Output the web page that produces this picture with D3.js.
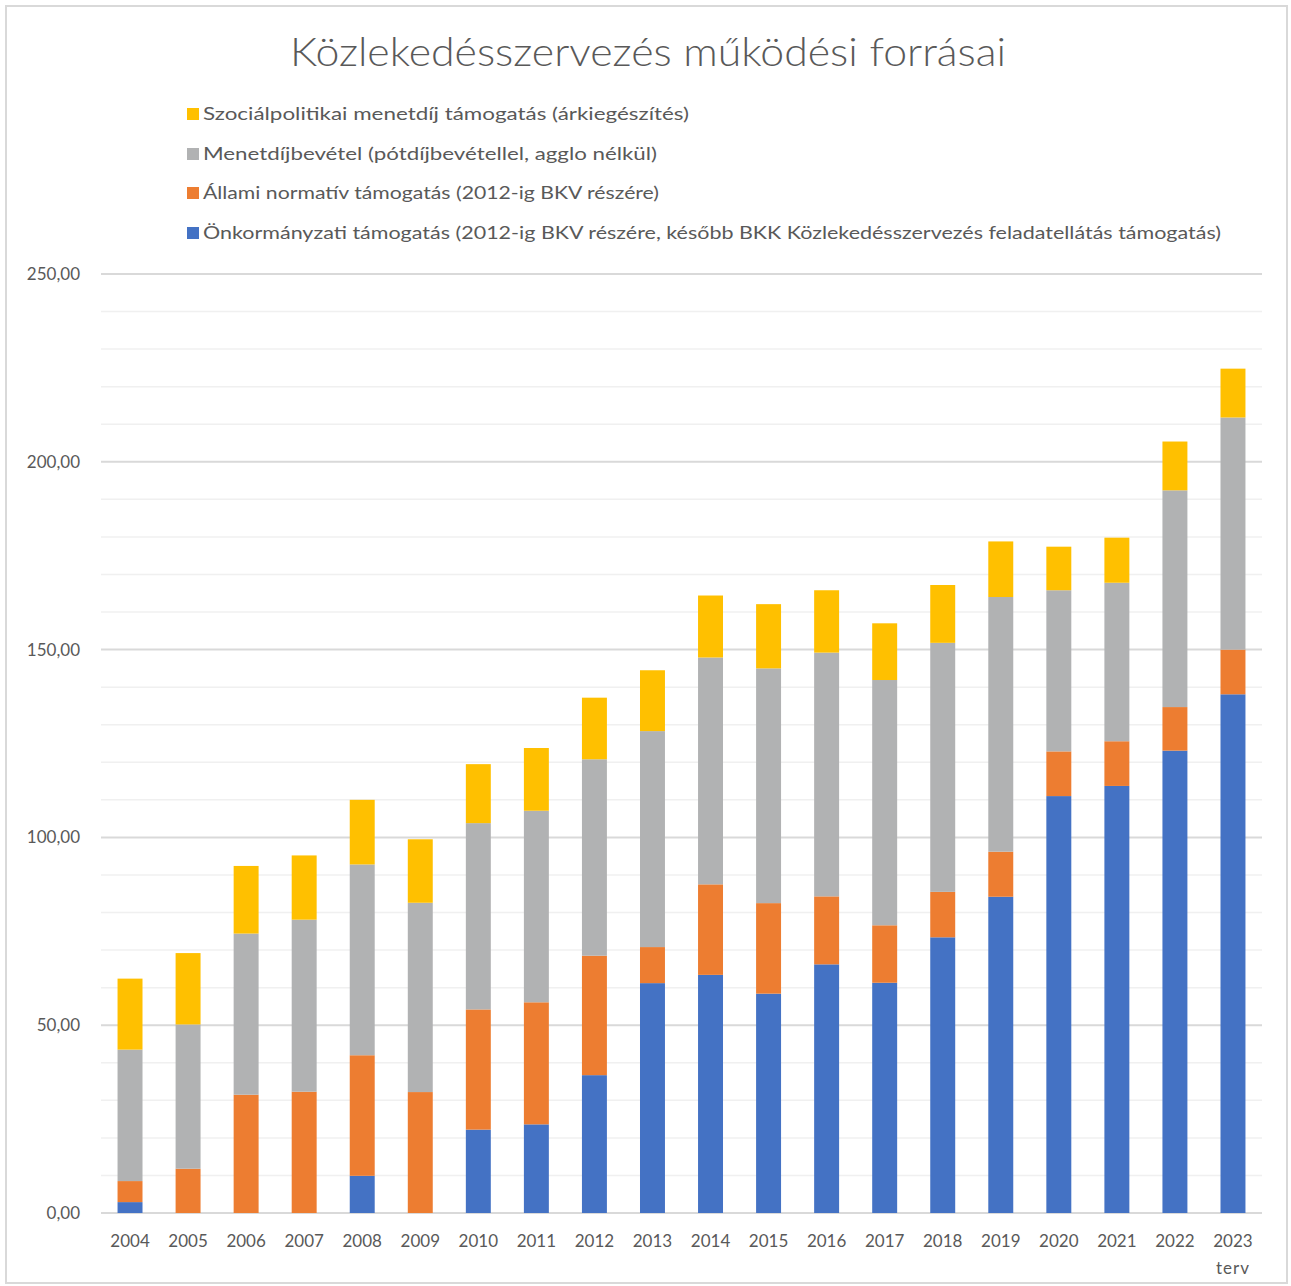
<!DOCTYPE html>
<html>
<head>
<meta charset="utf-8">
<script src="https://cdn.jsdelivr.net/npm/d3@7"></script>
<style>
body { margin: 0; background: #fff; }
text { font-family: Lato, "Noto Sans", sans-serif; }
</style>
</head>
<body>
<script>
var w = 1291;
var h = 1286;

var years = ["2004","2005","2006","2007","2008","2009","2010","2011","2012","2013",
             "2014","2015","2016","2017","2018","2019","2020","2021","2022","2023"];
// Önkormányzati támogatás
var onkormanyzati = [2.9,0,0,0,9.9,0,22.2,23.6,36.7,61.2,63.4,58.4,66.2,61.3,73.4,84.2,111.0,113.7,123.1,138.1];
// Állami normatív támogatás
var allami = [5.6,11.8,31.5,32.3,32.1,32.2,32.0,32.5,31.8,9.6,24.1,24.1,18.1,15.3,12.1,12.0,11.9,11.9,11.6,11.9];
// Menetdíjbevétel
var menetdij = [35.0,38.4,42.9,45.8,50.8,50.4,49.6,51.0,52.3,57.5,60.4,62.5,64.9,65.3,66.3,67.8,42.9,42.2,57.7,61.8];
// Szociálpolitikai menetdíj támogatás
var szocpol = [18.9,19.0,18.0,17.1,17.2,16.9,15.7,16.7,16.4,16.2,16.5,17.1,16.6,15.1,15.4,14.8,11.6,12.0,13.0,13.0];

var seriesNames = [
  "Önkormányzati támogatás (2012-ig BKV részére, később BKK Közlekedésszervezés feladatellátás támogatás)",
  "Állami normatív támogatás (2012-ig BKV részére)",
  "Menetdíjbevétel (pótdíjbevétellel, agglo nélkül)",
  "Szociálpolitikai menetdíj támogatás (árkiegészítés)"
];
var colors = ["#4472C4","#ED7D31","#B1B2B3","#FFC000"];
var yTicks = [0,50,100,150,200,250];

var svg = d3.select("body").append("svg").attr("width",w).attr("height",h);

// frame
svg.append("rect").attr("x",6).attr("y",6).attr("width",1281).attr("height",1277)
  .attr("fill","#fff").attr("stroke","#d9d9d9").attr("stroke-width",2);

// title
svg.append("text").attr("x",648).attr("y",66).attr("text-anchor","middle")
  .attr("font-size",40).attr("font-weight",300).attr("fill","#595959")
  .attr("textLength",716).attr("lengthAdjust","spacingAndGlyphs")
  .text("Közlekedésszervezés működési forrásai");

// legend (reversed order, top = last series)
var legendY = [233,193,154,114];
var legendW = [1018,456,454,486];
var leg = svg.selectAll("g.leg").data(seriesNames).enter().append("g").attr("class","leg");
leg.append("rect").attr("x",187).attr("y",function(d,i){return legendY[i]-6;})
  .attr("width",12).attr("height",12).attr("fill",function(d,i){return colors[i];});
leg.append("text").attr("x",203).attr("y",function(d,i){return legendY[i]+6;})
  .attr("font-size",17).attr("fill","#595959")
  .attr("textLength",function(d,i){return legendW[i];}).attr("lengthAdjust","spacingAndGlyphs")
  .text(function(d){return d;});

// scales
var x = d3.scaleBand().domain(years).range([101,1262]).paddingInner(0.57).paddingOuter(0.285);
var y = d3.scaleLinear().domain([0,250]).range([1213,274]);

// gridlines
svg.selectAll("line.minor").data(d3.range(0,251,10)).enter().append("line")
  .attr("x1",101).attr("x2",1262)
  .attr("y1",function(d){return y(d);}).attr("y2",function(d){return y(d);})
  .attr("stroke",function(d){return d%50===0 ? "#d9d9d9" : "#f0f0f0";})
  .attr("stroke-width",function(d){return d%50===0 ? 2 : 1.5;});

// y labels
svg.selectAll("text.ylab").data(yTicks).enter().append("text")
  .attr("x",80).attr("y",function(d){return y(d)+6;}).attr("text-anchor","end")
  .attr("font-size",17).attr("fill","#595959")
  .text(function(d){return d3.format(".2f")(d).replace(".",",");});

// stacked bars
var table = years.map(function(yr,i){
  return {year:yr, s0:onkormanyzati[i], s1:allami[i], s2:menetdij[i], s3:szocpol[i]};
});
var stack = d3.stack().keys(["s0","s1","s2","s3"])(table);

svg.selectAll("g.series").data(stack).enter().append("g")
  .attr("fill",function(d,i){return colors[i];})
  .selectAll("rect").data(function(d){return d;}).enter().append("rect")
  .attr("x",function(d){return x(d.data.year);})
  .attr("width",x.bandwidth())
  .attr("y",function(d){return y(d[1]);})
  .attr("height",function(d){return y(d[0])-y(d[1]);});

// x labels
svg.selectAll("text.xlab").data(years).enter().append("text")
  .attr("x",function(d){return x(d)+x.bandwidth()/2;}).attr("y",1247)
  .attr("text-anchor","middle").attr("font-size",17).attr("fill","#595959")
  .text(function(d){return d;});
svg.append("text").attr("x",x("2023")+x.bandwidth()/2).attr("y",1274)
  .attr("text-anchor","middle").attr("font-size",17).attr("fill","#595959")
  .attr("letter-spacing",1).text("terv");
</script>
</body>
</html>
